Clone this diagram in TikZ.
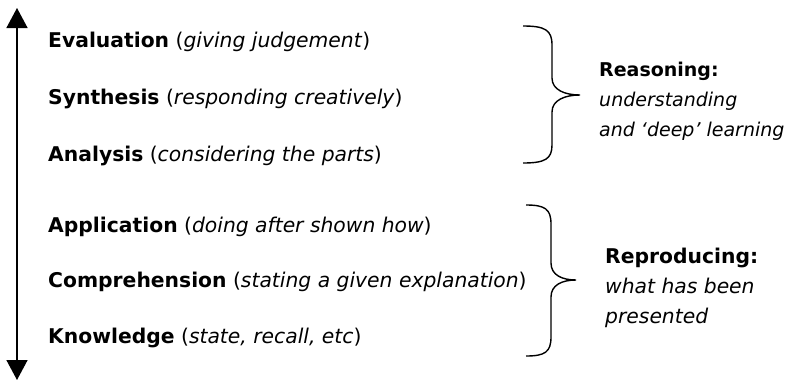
\documentclass[tikz,border=0pt]{standalone}
\usepackage{fontspec}
\setmainfont{DejaVu Sans}
\usetikzlibrary{arrows.meta,positioning}

\tikzset{
  level/.style={anchor=base west,inner sep=0pt},
  outcome/.style={anchor=north west,inner sep=0pt,align=left},
  bracket/.style={line width=1.4bp},
}

\begin{document}
\begin{tikzpicture}[x=1bp,y=-1bp,font=\fontsize{20.3bp}{30bp}\selectfont,>={Triangle[length=20bp,width=21bp]}]
  \useasboundingbox (0,0) rectangle (794,381);
  % the vertical axis
  \coordinate (top) at (17,8);
  \coordinate (bottom) at (17,380);
  \draw[<->,line width=1.5bp] (top)--(bottom);
  % the six levels
  \foreach \nm/\y/\lvl/\what in {eval/47/Evaluation/{giving judgement},synth/104/Synthesis/{responding creatively},anal/161/Analysis/{considering the parts},appl/232/Application/{doing after shown how},comp/287/Comprehension/{stating a given explanation},know/343/Knowledge/{state, recall, etc}}
    \node[level] (\nm) at (48,\y) {\textbf{\lvl} (\textit{\what})};
  % upper brace
  \coordinate (rtip) at (580,95);
  \draw[bracket] (523,26) .. controls (545,26) and (552,30) .. (552,45) -- (552,78)
    .. controls (552,90) and (565,95) .. (rtip)
    .. controls (565,95) and (552,100) .. (552,112) -- (552,145)
    .. controls (552,159) and (545,163) .. (523,163);
  % lower brace
  \coordinate (ptip) at (576,280);
  \draw[bracket] (526,205) .. controls (545,205) and (551,209) .. (551,224) -- (551,263)
    .. controls (551,275) and (562,280) .. (ptip)
    .. controls (562,280) and (551,285) .. (551,297) -- (551,337)
    .. controls (551,352) and (545,356) .. (526,356);
  \node[outcome,font=\fontsize{19bp}{30bp}\selectfont] (reason) at (599,62) {\textbf{Reasoning:}\\\textit{understanding}\\\textit{and ‘deep’ learning}};
  \node[outcome] (reprod) at (605,248) {\textbf{Reproducing:}\\\textit{what has been}\\\textit{presented}};
\end{tikzpicture}
\end{document}
